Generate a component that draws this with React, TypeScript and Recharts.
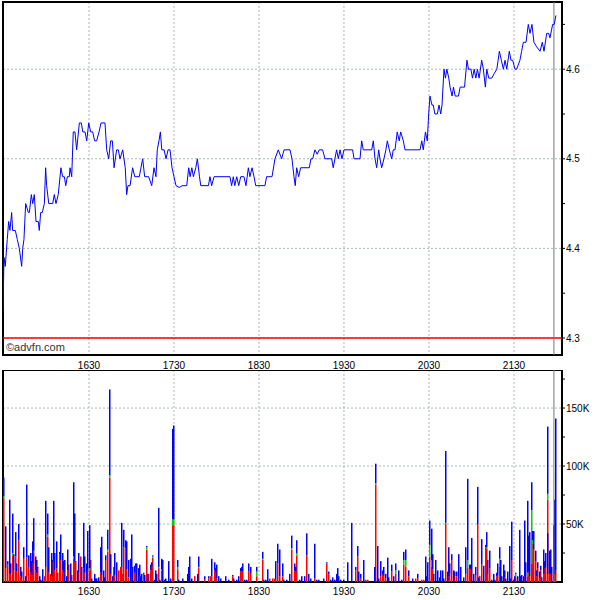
import React from 'react';
import {
  LineChart, Line, BarChart, Bar, XAxis, YAxis, CartesianGrid,
  ReferenceLine, ReferenceArea, Customized,
} from 'recharts';

// time in minutes after midnight
const priceTimes = [
  929.3, 930.0, 930.9, 932.3, 933.3, 934.2, 935.4, 936.1, 938.0, 939.4, 940.8, 942.5, 943.2, 944.1, 945.3, 947.2, 947.9, 949.3, 950.3, 951.4,
  952.6, 954.2, 954.9, 955.9, 957.0, 958.5, 959.4, 960.1, 961.6, 964.4, 965.5, 966.7, 968.3, 970.2, 971.4, 972.6, 973.6, 974.7, 976.1, 976.6,
  977.8, 978.9, 980.1, 981.3, 983.2, 984.6, 985.6, 987.2, 988.4, 989.8, 991.2, 992.6, 994.0, 995.4, 997.1, 998.5, 1001.3, 1002.5, 1003.9, 1005.3,
  1006.5, 1007.7, 1009.5, 1010.7, 1011.9, 1013.8, 1015.6, 1016.6, 1017.5, 1019.0, 1020.8, 1022.3, 1025.5, 1027.9, 1029.3, 1032.1, 1034.3, 1035.9, 1037.3, 1038.2,
  1039.4, 1040.4, 1041.4, 1043.0, 1044.4, 1045.8, 1047.2, 1048.6, 1050.0, 1051.4, 1053.8, 1055.7, 1059.0, 1060.4, 1061.4, 1062.6, 1063.7, 1065.4, 1066.5, 1068.0,
  1068.9, 1074.3, 1075.4, 1076.6, 1078.3, 1089.5, 1090.7, 1091.9, 1092.9, 1094.3, 1095.7, 1097.1, 1099.4, 1100.8, 1102.5, 1103.6, 1105.1, 1106.5, 1107.7, 1114.2,
  1115.4, 1119.2, 1121.3, 1123.6, 1126.0, 1127.7, 1131.9, 1133.3, 1134.7, 1135.6, 1136.6, 1138.0, 1139.4, 1145.5, 1146.7, 1147.9, 1149.5, 1151.1, 1152.5, 1154.9,
  1156.6, 1161.3, 1162.4, 1163.6, 1164.8, 1166.0, 1167.2, 1168.6, 1170.0, 1176.1, 1177.1, 1181.3, 1182.5, 1183.6, 1189.6, 1190.7, 1191.9, 1193.1, 1194.5, 1195.4,
  1196.6, 1198.2, 1199.6, 1200.6, 1202.0, 1203.7, 1204.8, 1206.0, 1207.6, 1209.0, 1210.0, 1211.9, 1213.1, 1223.7, 1224.9, 1226.0, 1227.5, 1228.8, 1229.8, 1230.7,
  1232.1, 1233.0, 1234.2, 1235.9, 1237.1, 1238.3, 1239.2, 1240.6, 1241.6, 1242.6, 1244.0, 1244.9, 1246.3, 1247.3, 1248.5, 1250.8, 1252.0, 1255.1, 1256.8, 1257.9,
  1259.6, 1260.7, 1261.9, 1263.1, 1264.2, 1265.4, 1267.2, 1268.4, 1269.8, 1270.8, 1272.2, 1274.3, 1276.0, 1277.9, 1279.7, 1281.1, 1282.5, 1283.7, 1284.9, 1286.7,
  1287.9, 1289.1, 1290.7, 1291.9, 1294.2, 1295.4, 1296.6, 1298.5, 1300.1, 1301.3, 1302.7, 1304.1, 1306.0, 1308.4, 1310.0, 1311.2, 1313.1, 1314.5, 1315.4, 1317.3,
  1318.4, 1319.6,
];
const priceValues = [
  4.33, 4.39, 4.38, 4.41, 4.43, 4.42, 4.44, 4.42, 4.42, 4.41, 4.40, 4.38, 4.40, 4.41, 4.45, 4.44, 4.44, 4.46, 4.45, 4.46,
  4.43, 4.43, 4.42, 4.44, 4.44, 4.45, 4.49, 4.47, 4.45, 4.45, 4.46, 4.45, 4.46, 4.49, 4.48, 4.48, 4.47, 4.48, 4.48, 4.49,
  4.48, 4.53, 4.53, 4.51, 4.54, 4.54, 4.53, 4.53, 4.52, 4.54, 4.53, 4.53, 4.52, 4.52, 4.53, 4.54, 4.54, 4.51, 4.50, 4.52,
  4.52, 4.49, 4.51, 4.51, 4.50, 4.51, 4.49, 4.46, 4.47, 4.47, 4.49, 4.48, 4.48, 4.50, 4.48, 4.48, 4.47, 4.49, 4.48, 4.51,
  4.52, 4.53, 4.51, 4.51, 4.50, 4.51, 4.51, 4.49, 4.48, 4.47, 4.468, 4.47, 4.47, 4.49, 4.48, 4.49, 4.48, 4.49, 4.50, 4.48,
  4.47, 4.47, 4.48, 4.47, 4.48, 4.48, 4.47, 4.48, 4.47, 4.48, 4.47, 4.48, 4.48, 4.47, 4.49, 4.48, 4.49, 4.48, 4.47, 4.47,
  4.48, 4.48, 4.50, 4.51, 4.50, 4.51, 4.51, 4.50, 4.48, 4.47, 4.49, 4.48, 4.49, 4.49, 4.50, 4.50, 4.51, 4.505, 4.51, 4.51,
  4.50, 4.50, 4.49, 4.50, 4.51, 4.50, 4.51, 4.50, 4.51, 4.51, 4.50, 4.50, 4.52, 4.51, 4.51, 4.52, 4.50, 4.49, 4.51, 4.50,
  4.49, 4.50, 4.51, 4.52, 4.51, 4.50, 4.51, 4.51, 4.53, 4.52, 4.53, 4.52, 4.51, 4.51, 4.52, 4.51, 4.53, 4.52, 4.55, 4.57,
  4.56, 4.56, 4.55, 4.55, 4.56, 4.55, 4.56, 4.60, 4.59, 4.60, 4.59, 4.58, 4.57, 4.58, 4.57, 4.57, 4.58, 4.58, 4.61, 4.60,
  4.60, 4.59, 4.60, 4.59, 4.60, 4.59, 4.61, 4.60, 4.58, 4.60, 4.59, 4.59, 4.595, 4.60, 4.62, 4.61, 4.60, 4.61, 4.60, 4.62,
  4.61, 4.61, 4.60, 4.60, 4.61, 4.62, 4.63, 4.63, 4.65, 4.64, 4.65, 4.63, 4.625, 4.62, 4.63, 4.62, 4.64, 4.64, 4.635, 4.65,
  4.65, 4.66,
];

// volume in thousands, per trade minute
const volTimes = [
  930.0, 931.4, 932.4, 933.8, 934.7, 935.7, 936.6, 938.0, 939.0, 940.5, 941.8, 942.7, 943.7, 945.1, 946.0, 947.2, 948.4, 949.3, 950.3, 951.0,
  952.1, 953.1, 954.0, 955.0, 955.9, 957.3, 958.3, 959.4, 960.4, 961.6, 962.5, 963.4, 964.4, 965.1, 966.0, 967.0, 968.1, 969.1, 970.0, 971.0,
  971.9, 972.8, 973.8, 974.7, 975.7, 976.6, 978.0, 979.0, 979.7, 980.8, 981.8, 982.7, 983.7, 984.6, 986.0, 987.0, 987.9, 989.3, 990.3, 991.2,
  992.1, 993.6, 994.5, 995.4, 996.9, 997.8, 998.7, 1000.1, 1001.1, 1002.0, 1003.0, 1004.4, 1005.3, 1006.3, 1007.2, 1008.1, 1009.6, 1010.5, 1011.9, 1012.8,
  1013.8, 1014.7, 1015.7, 1016.6, 1018.0, 1019.0, 1019.9, 1020.9, 1021.8, 1022.7, 1023.7, 1024.6, 1025.6, 1026.5, 1027.4, 1028.4, 1029.3, 1030.3, 1031.2, 1032.1,
  1033.1, 1034.0, 1035.0, 1035.9, 1036.9, 1037.8, 1039.2, 1040.1, 1041.1, 1042.0, 1043.0, 1043.9, 1046.3, 1047.7, 1048.6, 1049.8, 1052.4, 1053.3, 1055.7, 1059.4,
  1060.4, 1061.3, 1062.7, 1064.6, 1066.5, 1067.4, 1071.7, 1074.5, 1075.5, 1076.4, 1078.3, 1079.2, 1080.2, 1081.6, 1082.5, 1086.3, 1088.6, 1091.0, 1091.9, 1094.3,
  1095.2, 1096.6, 1097.6, 1098.5, 1099.9, 1100.9, 1102.8, 1103.7, 1107.9, 1112.2, 1113.1, 1114.5, 1115.9, 1117.3, 1119.7, 1120.6, 1121.6, 1123.0, 1124.4, 1126.3,
  1127.2, 1129.1, 1131.5, 1133.3, 1134.8, 1135.7, 1136.6, 1138.5, 1139.9, 1141.8, 1143.2, 1145.1, 1146.5, 1148.9, 1150.8, 1152.2, 1155.5, 1157.8, 1158.8, 1160.2,
  1161.6, 1163.0, 1164.4, 1165.3, 1166.3, 1167.7, 1170.0, 1172.4, 1175.2, 1178.1, 1179.5, 1180.4, 1181.8, 1183.7, 1185.1, 1186.5, 1191.2, 1192.2, 1193.6, 1194.5,
  1195.9, 1196.9, 1197.8, 1199.2, 1200.6, 1201.6, 1203.5, 1204.9, 1206.3, 1208.6, 1210.7, 1212.3, 1213.3, 1215.6, 1218.4, 1220.3, 1222.2, 1224.6, 1226.0, 1227.4,
  1228.3, 1229.3, 1230.2, 1231.6, 1232.6, 1233.5, 1234.4, 1235.9, 1237.3, 1238.2, 1239.6, 1240.6, 1241.5, 1242.9, 1243.9, 1244.8, 1246.2, 1247.1, 1248.1, 1249.5,
  1250.9, 1251.9, 1254.2, 1255.6, 1257.5, 1258.4, 1259.4, 1260.3, 1261.7, 1262.7, 1264.1, 1265.0, 1266.0, 1267.4, 1268.8, 1269.7, 1270.7, 1271.6, 1272.6, 1274.4,
  1275.4, 1276.3, 1277.7, 1278.7, 1279.6, 1280.6, 1281.5, 1282.4, 1283.4, 1284.3, 1285.3, 1286.7, 1287.6, 1288.6, 1289.5, 1290.4, 1291.4, 1292.3, 1293.7, 1294.7,
  1295.6, 1296.6, 1297.5, 1298.4, 1299.4, 1300.3, 1301.3, 1302.2, 1303.2, 1304.1, 1305.0, 1306.0, 1306.9, 1307.9, 1308.8, 1309.7, 1310.7, 1311.6, 1312.6, 1313.5,
  1314.0, 1314.9, 1315.9, 1316.8, 1317.7, 1318.7, 1319.6,
];
const volRed = [
  72, 12, 15, 7, 7, 23, 10, 22, 9, 36, 5, 3, 20, 0, 21, 13, 8, 6, 16, 25,
  10, 8, 12, 0, 0, 0, 5, 13, 39, 8, 7, 5, 17, 19, 10, 12, 8, 24, 19, 10,
  8, 0, 0, 10, 15, 0, 6, 20, 18, 17, 0, 8, 22, 0, 12, 8, 0, 10, 10, 19,
  0, 0, 0, 0, 0, 8, 6, 0, 0, 19, 26, 90, 7, 0, 13, 6, 0, 10, 13, 13,
  7, 30, 29, 11, 4, 0, 12, 0, 8, 13, 0, 0, 5, 0, 0, 7, 0, 28, 0, 7,
  10, 14, 21, 0, 0, 0, 12, 0, 10, 0, 0, 0, 0, 0, 49, 49, 11, 0, 0, 0,
  0, 0, 0, 5, 0, 12, 2, 3, 5, 5, 10, 8, 3, 0, 0, 0, 0, 5, 0, 0,
  0, 9, 9, 9, 0, 0, 9, 7, 5, 19, 0, 0, 0, 3, 3, 3, 2, 16, 5, 5,
  0, 0, 0, 28, 9, 9, 23, 0, 0, 0, 23, 0, 0, 3, 0, 0, 0, 16, 7, 0,
  0, 0, 0, 0, 0, 0, 0, 0, 0, 10, 22, 0, 3, 0, 2, 2, 0, 84, 0, 0,
  5, 7, 5, 3, 0, 0, 9, 0, 7, 0, 0, 15, 13, 5, 0, 3, 3, 2, 2, 0,
  0, 0, 22, 13, 11, 0, 0, 0, 0, 0, 0, 0, 50, 0, 5, 7, 19, 0, 5, 5,
  0, 0, 0, 7, 12, 11, 12, 0, 0, 6, 50, 0, 4, 15, 0, 30, 29, 7, 12, 0,
  0, 0, 5, 6, 13, 0, 0, 0, 4, 0, 0, 0, 0, 19, 0, 0, 4, 0, 0, 0,
  0, 0, 5, 0, 5, 9, 5, 16, 33, 28, 18, 5, 12, 3, 10, 0, 7, 12, 13, 7,
  71, 7, 7, 0, 27, 7, 10,
];
const volGreen = [
  2, 0, 0, 0, 0, 2, 0, 0, 0, 0, 0, 0, 0, 0, 0, 0, 0, 0, 0, 2,
  0, 0, 0, 0, 0, 0, 0, 0, 2, 0, 0, 0, 0, 0, 0, 0, 0, 0, 0, 0,
  0, 0, 0, 0, 0, 0, 0, 2, 0, 0, 0, 0, 0, 0, 0, 0, 0, 0, 2, 0,
  0, 0, 0, 0, 0, 0, 0, 0, 0, 0, 2, 2, 0, 0, 0, 0, 0, 0, 0, 0,
  0, 0, 0, 0, 0, 0, 0, 0, 0, 0, 0, 0, 0, 0, 0, 0, 0, 2, 0, 0,
  0, 0, 1, 0, 0, 0, 1, 0, 1, 0, 0, 0, 0, 0, 5, 5, 2, 0, 0, 0,
  0, 0, 0, 0, 0, 1, 0, 0, 0, 0, 0, 0, 0, 0, 0, 0, 0, 0, 0, 0,
  0, 0, 0, 0, 0, 0, 0, 0, 4, 1, 0, 0, 0, 0, 0, 0, 0, 0, 0, 0,
  0, 0, 0, 1, 0, 0, 2, 0, 0, 0, 0, 0, 0, 0, 0, 0, 0, 0, 0, 0,
  0, 0, 0, 0, 0, 0, 0, 0, 0, 0, 0, 0, 0, 0, 0, 0, 0, 1, 0, 0,
  0, 0, 0, 0, 0, 0, 0, 0, 3, 0, 0, 4, 6, 0, 0, 0, 0, 0, 0, 0,
  0, 0, 10, 6, 0, 0, 0, 0, 0, 0, 0, 0, 1, 0, 0, 0, 0, 0, 0, 0,
  0, 0, 0, 0, 7, 0, 0, 0, 0, 0, 0, 0, 0, 0, 0, 0, 1, 0, 0, 0,
  0, 0, 0, 0, 7, 0, 0, 0, 0, 0, 0, 0, 0, 0, 0, 0, 3, 0, 0, 0,
  0, 0, 0, 0, 3, 0, 0, 46, 3, 0, 0, 0, 0, 0, 0, 0, 0, 0, 0, 0,
  5, 0, 0, 0, 0, 0, 0,
];
const volBlue = [
  16, 36, 3, 64, 9, 34, 14, 21, 7, 14, 8, 6, 10, 5, 63, 10, 17, 12, 19, 28,
  12, 11, 1, 5, 2, 11, 0, 57, 18, 22, 0, 20, 2, 51, 15, 23, 0, 2, 22, 15,
  10, 19, 5, 18, 0, 16, 0, 64, 41, 1, 10, 17, 0, 13, 39, 14, 16, 34, 37, 0,
  3, 7, 3, 3, 4, 22, 33, 10, 4, 4, 17, 74, 17, 5, 0, 19, 17, 0, 0, 38,
  0, 15, 7, 24, 15, 20, 29, 13, 6, 3, 16, 12, 10, 5, 7, 1, 6, 1, 7, 0,
  5, 3, 1, 2, 10, 7, 51, 2, 9, 19, 2, 3, 18, 3, 78, 81, 6, 2, 3, 7,
  13, 22, 3, 0, 7, 9, 3, 2, 0, 15, 7, 4, 12, 5, 3, 5, 2, 1, 3, 2,
  5, 3, 4, 7, 2, 2, 7, 6, 4, 6, 2, 2, 11, 0, 0, 0, 16, 17, 23, 11,
  2, 2, 7, 11, 7, 4, 11, 2, 5, 5, 19, 7, 3, 30, 2, 2, 3, 1, 2, 2,
  4, 2, 7, 12, 5, 2, 2, 17, 51, 3, 9, 9, 4, 19, 0, 0, 13, 17, 31, 3,
  13, 3, 8, 4, 21, 4, 6, 5, 6, 10, 2, 7, 9, 5, 3, 0, 4, 0, 0, 22,
  5, 17, 21, 27, 13, 7, 19, 10, 4, 10, 10, 3, 62, 9, 25, 9, 5, 10, 4, 4,
  24, 13, 4, 23, 70, 4, 3, 38, 7, 7, 32, 4, 1, 22, 14, 2, 13, 12, 15, 2,
  7, 2, 3, 10, 10, 19, 5, 15, 6, 3, 9, 31, 3, 33, 2, 5, 1, 5, 45, 5,
  6, 5, 48, 17, 62, 31, 38, 24, 8, 16, 9, 5, 5, 6, 4, 4, 21, 6, 12, 35,
  58, 20, 21, 13, 22, 64, 131,
];

const timeTicks = [990, 1050, 1110, 1170, 1230, 1290];
const timeDomain = [929.3, 1323.9];
const priceTicks = [4.3, 4.35, 4.4, 4.45, 4.5, 4.55, 4.6, 4.65];
const priceGrid = [4.3, 4.4, 4.5, 4.6];
const priceDomain = [4.281, 4.675];
const volTicks = [25, 50, 75, 100, 125, 150, 175];
const volGrid = [50, 100, 150];
const volDomain = [0, 182.8];
const supportLevel = 4.3;
const nowMarker = 1318.2;
const copyright = '©advfn.com';

const priceData = priceTimes.map((t, i) => ({ t, p: priceValues[i] }));
const volData = volTimes.map((t, i) => ({ t, red: volRed[i], green: volGreen[i], blue: volBlue[i] }));

const FONT = "'Liberation Sans Narrow', 'Liberation Sans', Arial, sans-serif";
const GRID = '#a9b9b9';
const BAR_W = 1.5;

const fmtTime = (v: number) => `${Math.floor(v / 60)}${String(Math.round(v % 60)).padStart(2, '0')}`;
const fmtPrice = (v: number) => (Math.round(v * 100) % 10 === 0 ? v.toFixed(1) : '');
const fmtVol = (v: number) => (v % 50 === 0 ? `${v}K` : '');

const tickStyle = { fontSize: 10, fill: '#000', fontFamily: FONT };

// thin volume stick centred on the library-computed bar position
const VolStick = (props: any) => {
  const { x, y, width, height, fill } = props;
  if (!height || height <= 0) return null;
  const cx = Math.floor(x + width / 2);
  return <rect x={cx} y={y} width={BAR_W} height={height} fill={fill} />;
};

export default function App() {
  return (
    <div style={{ position: 'absolute', left: 0, top: 0, width: 600, height: 600, background: '#fff' }}>
      <div style={{ position: 'absolute', left: 0, top: 0 }}>
        <LineChart width={600} height={370} data={priceData} margin={{ top: 2, right: 0, bottom: 0, left: 3 }}>
          <CartesianGrid stroke={GRID} strokeDasharray="2 2" horizontalValues={priceGrid} />
          <XAxis dataKey="t" type="number" domain={timeDomain} allowDataOverflow ticks={timeTicks}
            tickFormatter={fmtTime} tick={tickStyle} tickLine={false} axisLine={false} height={15} tickMargin={1} />
          <YAxis orientation="right" type="number" domain={priceDomain} allowDataOverflow ticks={priceTicks}
            tickFormatter={fmtPrice} tick={tickStyle} tickSize={3} tickMargin={1} axisLine={false}
            tickLine={{ stroke: '#000' }} width={38} />
          <ReferenceLine y={supportLevel} stroke="#ff0000" strokeWidth={1.5} />
          <ReferenceLine x={nowMarker} stroke="#6f7a7a" strokeWidth={1} />
          <Line dataKey="p" type="linear" stroke="#0000ff" strokeWidth={1} dot={false} isAnimationActive={false} />
          <ReferenceArea x1={timeDomain[0]} x2={timeDomain[1]} y1={priceDomain[0]} y2={priceDomain[1]}
            fill="none" stroke="#000" strokeWidth={2} />
          <Customized component={() => (
            <text x={6} y={351} fontSize={11} fontFamily="'Liberation Sans', Arial, sans-serif" fill="#333">{copyright}</text>
          )} />
        </LineChart>
      </div>
      <div style={{ position: 'absolute', left: 0, top: 370 }}>
        <BarChart width={600} height={230} data={volData} margin={{ top: 0, right: 0, bottom: 0, left: 3 }} barGap={0}>
          <CartesianGrid stroke={GRID} strokeDasharray="2 2" horizontalValues={volGrid} />
          <XAxis dataKey="t" type="number" domain={timeDomain} allowDataOverflow ticks={timeTicks}
            tickFormatter={fmtTime} tick={tickStyle} tickLine={false} axisLine={false} height={18} tickMargin={0} />
          <YAxis orientation="right" type="number" domain={volDomain} allowDataOverflow ticks={volTicks}
            tickFormatter={fmtVol} tick={tickStyle} tickSize={3} tickMargin={1} axisLine={false}
            tickLine={{ stroke: '#000' }} width={38} />
          <Bar dataKey="red" stackId="v" fill="#ff0000" shape={VolStick} isAnimationActive={false} />
          <Bar dataKey="green" stackId="v" fill="#00d000" shape={VolStick} isAnimationActive={false} />
          <Bar dataKey="blue" stackId="v" fill="#0000ff" shape={VolStick} isAnimationActive={false} />
          <ReferenceLine x={nowMarker} stroke="#6f7a7a" strokeWidth={1} />
          <ReferenceArea x1={timeDomain[0]} x2={timeDomain[1]} y1={volDomain[0]} y2={volDomain[1]}
            fill="none" stroke="#000" strokeWidth={2} />
        </BarChart>
      </div>
    </div>
  );
}
